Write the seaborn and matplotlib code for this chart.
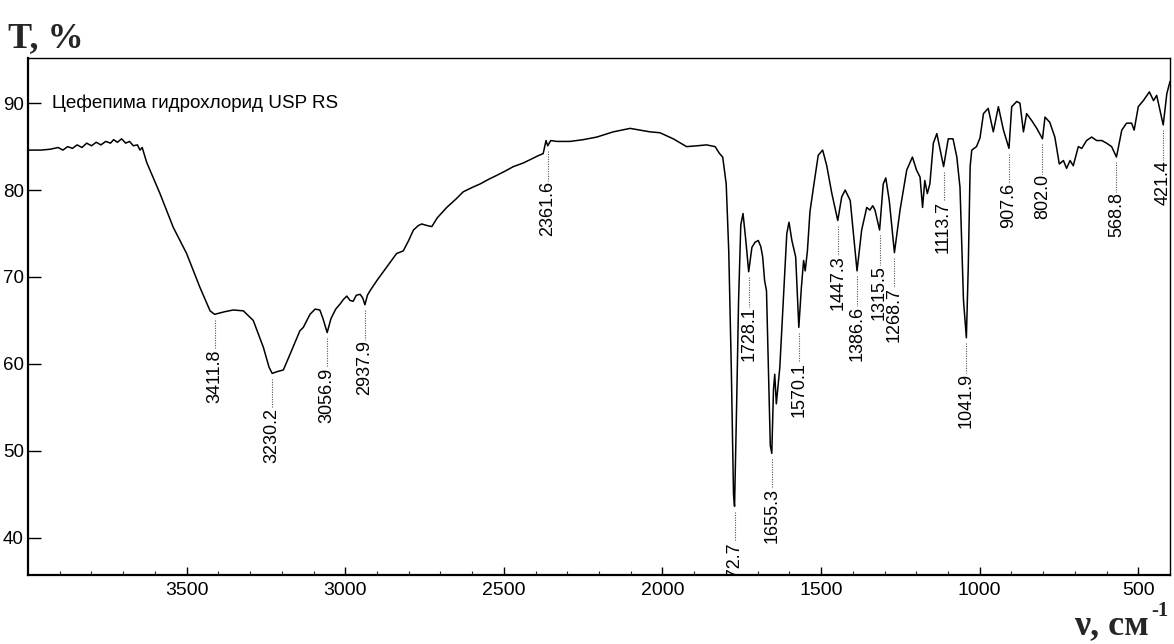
import numpy as np
import pandas as pd
import matplotlib
matplotlib.use("Agg")
import matplotlib.pyplot as plt
import seaborn as sns

# ---------------- data ----------------
wavenumber = [
    4000, 3960, 3930, 3905, 3890, 3875, 3860, 3845, 3830, 3815, 3800, 3785, 3770,
    3755, 3740, 3730, 3718, 3705, 3692, 3680, 3668, 3655, 3647, 3640, 3626, 3584,
    3542, 3500, 3458, 3426, 3411.8, 3380, 3353, 3321, 3290, 3258, 3240, 3230.2,
    3215, 3195, 3174, 3143, 3132, 3111, 3095, 3080, 3070, 3056.9, 3045, 3030,
    3016, 3006, 2995, 2985, 2975, 2965, 2953, 2945, 2937.9, 2930, 2922, 2900,
    2880, 2860, 2838, 2817, 2800, 2785, 2770, 2759, 2740, 2727, 2710, 2680, 2650,
    2628, 2600, 2575, 2550, 2522, 2495, 2470, 2440, 2417, 2395, 2376, 2367,
    2361.6, 2352, 2333, 2291, 2250, 2207, 2155, 2102, 2071, 2039, 2008, 1966,
    1924, 1890, 1861, 1834, 1820, 1810, 1799, 1791, 1783, 1776, 1772.7, 1766,
    1760, 1753, 1746, 1738, 1728.1, 1718, 1708, 1698, 1690, 1684, 1678, 1672,
    1666, 1660, 1655.3, 1650, 1646, 1641, 1630, 1619, 1608, 1601, 1592, 1587,
    1580, 1570.1, 1562, 1555, 1550, 1543, 1535, 1524, 1509, 1495, 1482, 1466,
    1447.3, 1435, 1424, 1408, 1386.6, 1372, 1356, 1346, 1337, 1330, 1315.5, 1304,
    1296, 1285, 1268.7, 1251, 1230, 1212, 1199, 1188, 1180, 1173, 1165, 1157,
    1146, 1135, 1113.7, 1099, 1084, 1072, 1062, 1051, 1041.9, 1036, 1030, 1025,
    1010, 999, 988, 973, 957, 941, 925, 907.6, 899, 883, 873, 862, 852, 836, 820,
    802.0, 794, 779, 763, 749, 736, 726, 715, 705, 689, 678, 663, 647, 631, 615,
    600, 584, 568.8, 552, 537, 521, 513, 500, 484, 465, 452, 442, 421.4, 410, 400,
]
transmittance = [
    84.6, 84.6, 84.7, 84.9, 84.6, 85.0, 84.8, 85.2, 84.9, 85.4, 85.1, 85.5, 85.2,
    85.6, 85.4, 85.8, 85.5, 85.9, 85.4, 85.6, 85.1, 85.2, 84.6, 84.9, 83.2, 79.6,
    75.7, 72.7, 68.8, 66.1, 65.7, 66.0, 66.2, 66.1, 65.0, 61.9, 59.6, 58.9,
    59.1, 59.3, 61.1, 63.8, 64.2, 65.7, 66.3, 66.2, 65.2, 63.6, 65.2, 66.3,
    66.9, 67.4, 67.8, 67.3, 67.2, 67.9, 68.0, 67.6, 66.8, 67.9, 68.4, 69.6,
    70.6, 71.6, 72.7, 73.0, 74.2, 75.4, 75.9, 76.1, 75.9, 75.8, 76.8, 78.0, 79.0,
    79.8, 80.3, 80.7, 81.2, 81.7, 82.2, 82.7, 83.1, 83.5, 83.9, 84.2, 85.7,
    85.1, 85.7, 85.6, 85.6, 85.8, 86.1, 86.7, 87.1, 86.9, 86.7, 86.6, 85.9,
    85.0, 85.1, 85.2, 85.0, 84.2, 83.8, 80.7, 73.0, 59.6, 45.0, 43.6, 55.5,
    67.3, 76.0, 77.3, 74.5, 70.6, 73.4, 74.0, 74.2, 73.5, 72.3, 69.6, 68.4,
    59.6, 50.6, 49.7, 57.0, 58.8, 55.4, 59.6, 67.3, 75.0, 76.3, 74.2, 73.4,
    72.3, 64.2, 68.8, 71.9, 70.7, 73.0, 77.5, 80.3, 84.0, 84.6, 82.8, 79.6,
    76.5, 79.2, 80.0, 78.8, 70.7, 75.4, 78.0, 77.7, 78.2, 77.7, 75.4, 80.7,
    81.4, 78.8, 72.8, 77.7, 82.3, 83.8, 82.3, 81.5, 78.0, 81.1, 79.6, 80.7,
    85.4, 86.5, 82.7, 85.9, 85.9, 83.8, 80.3, 67.3, 63.0, 71.1, 82.7, 84.6,
    85.0, 86.0, 88.8, 89.4, 86.7, 89.6, 86.9, 84.8, 89.6, 90.2, 90.0, 86.7, 88.8,
    88.0, 87.1, 85.9, 88.4, 87.8, 86.1, 83.0, 83.4, 82.5, 83.4, 82.8, 85.0, 84.8,
    85.7, 86.1, 85.7, 85.7, 85.4, 85.0, 83.8, 86.9, 87.7, 87.7, 86.9, 89.6,
    90.3, 91.3, 90.3, 90.9, 87.5, 91.1, 92.5,
]
peak_positions = [3411.8, 3230.2, 3056.9, 2937.9, 2361.6, 1772.7, 1728.1, 1655.3,
                  1570.1, 1447.3, 1386.6, 1315.5, 1268.7, 1113.7, 1041.9, 907.6,
                  802.0, 568.8, 421.4]
x_ticks = [3500, 3000, 2500, 2000, 1500, 1000, 500]
y_ticks = [40, 50, 60, 70, 80, 90]
sample_label = "Цефепима гидрохлорид USP RS"
y_title = "T, %"
x_title = "ν, см"
x_title_sup = "-1"

# ---------------- plot ----------------
sns.set_style("ticks")
plt.rcParams["font.family"] = ["Liberation Sans", "DejaVu Sans"]

W, H = 1174, 644
fig = plt.figure(figsize=(W / 100, H / 100), dpi=100)
ax = fig.add_axes([28 / W, 1 - 575 / H, 1142 / W, 517 / H])

df = pd.DataFrame({"wavenumber": wavenumber, "T": transmittance})
sns.lineplot(data=df, x="wavenumber", y="T", ax=ax, color="black",
             linewidth=1.1, estimator=None, sort=False)

ax.set_xlim(4000, 400)
ax.set_ylim(35.7, 95.2)
ax.set_xlabel("")
ax.set_ylabel("")

ax.set_xticks(x_ticks)
ax.set_xticks(np.arange(500, 4000, 100), minor=True)
ax.set_yticks(y_ticks)
ax.tick_params(axis="x", which="major", direction="in", length=6, width=1.0,
               labelsize=14, pad=5, colors="black")
ax.tick_params(axis="x", which="minor", direction="in", length=3, width=0.8)
ax.tick_params(axis="y", which="major", direction="in", length=9, width=1.0,
               labelsize=13.5, pad=3, colors="black")
for side, lw in [("left", 1.6), ("bottom", 1.6), ("top", 1.0), ("right", 1.0)]:
    ax.spines[side].set_visible(True)
    ax.spines[side].set_linewidth(lw)
    ax.spines[side].set_color("black")

# peak labels
wn_asc = np.array(wavenumber)[::-1]
t_asc = np.array(transmittance)[::-1]
gap = 4.0
for p in peak_positions:
    tp = float(np.interp(p, wn_asc, t_asc))
    ax.plot([p, p], [tp - 0.6, tp - gap], linestyle=(0, (1, 1.2)), color="#555555",
            linewidth=0.8)
    ax.text(p, tp - gap, f"{p:.1f}", rotation=90, ha="center", va="top",
            fontsize=13, color="black", clip_on=True)

ax.text(24 / 1142, 0.913, sample_label, transform=ax.transAxes, ha="left",
        va="center", fontsize=13.6, color="black")

fig.text(8 / W, 1 - 47 / H, y_title, fontsize=26, fontweight="bold",
         family=["Liberation Serif", "DejaVu Serif"], ha="left", va="baseline")
fig.text(1149 / W, 1 - 634 / H, x_title, fontsize=26, fontweight="bold",
         family=["Liberation Serif", "DejaVu Serif"], ha="right", va="baseline")
fig.text(1151 / W, 1 - 616 / H, x_title_sup, fontsize=15, fontweight="bold",
         family=["Liberation Serif", "DejaVu Serif"], ha="left", va="baseline")

fig.savefig("out.png", dpi=100, facecolor="white")
